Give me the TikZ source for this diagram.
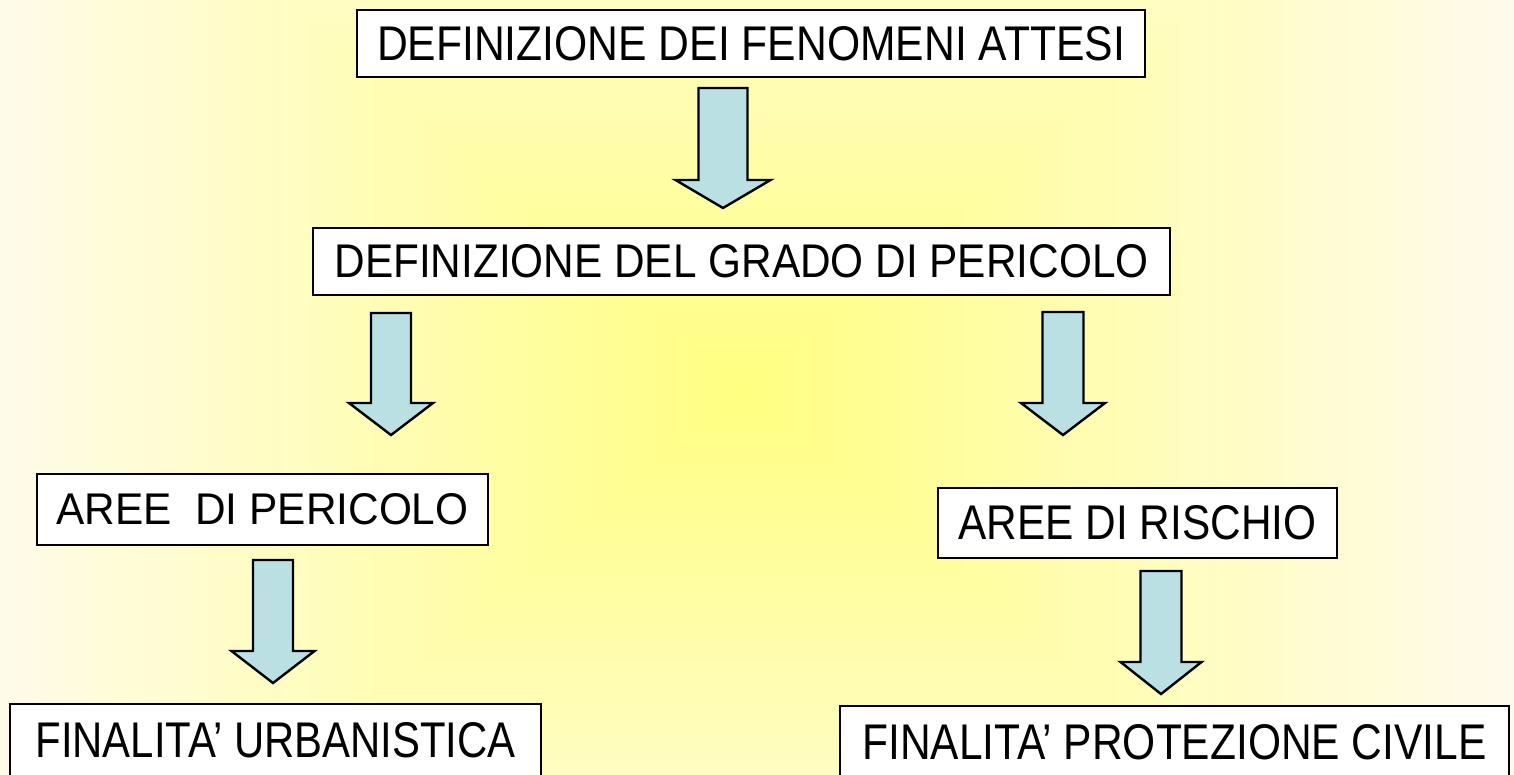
\documentclass[tikz,border=0pt]{standalone}
\usepackage{fontspec}
\usepackage{graphicx}
\setmainfont{Liberation Sans}
\definecolor{centreyellow}{RGB}{255,255,128}
\definecolor{edgecream}{RGB}{255,251,236}
\definecolor{arrowblue}{RGB}{187,224,227}

\tikzstyle{box} = [draw,line width=2.4pt,fill=white,inner sep=0pt,font=\fontsize{46}{50}\selectfont]
\tikzstyle{blockarrow} = [draw,line width=2.4pt,fill=arrowblue,line join=miter]
\newcommand{\boxtext}[3]{\resizebox{#1pt}{#2pt}{#3}}

\begin{document}
\begin{tikzpicture}[x=1pt,y=-1pt]
      \useasboundingbox (0,0) rectangle (1514,774);
      %% background
      \fill[edgecream] (0,0) rectangle (1514,774);
      \foreach \i in {0,...,60}
      {
        \pgfmathsetmacro\f{1-\i/60}
        \pgfmathsetmacro\p{100*\i/60}
        \fill[centreyellow!\p!edgecream] ({745-770*\f},{390-650*\f}) rectangle ({745+770*\f},{390+650*\f});
      }
      %% boxes
      \foreach \nodename/\x/\y/\w/\h/\tw/\th/\label in {
        fenomeni/751/43.5/788/67/748/34/DEFINIZIONE DEI FENOMENI ATTESI,
        grado/741.5/261.5/857/67/814/33/DEFINIZIONE DEL GRADO DI PERICOLO,
        pericolo/262.5/509.5/451/71/412/31/AREE\ \ DI PERICOLO,
        rischio/1137.5/523/399/70/358/34/AREE DI RISCHIO,
        urbanistica/275.5/740/531/72/480/35/FINALITA' URBANISTICA,
        protezione/1174.5/742/669/72/624/35/FINALITA' PROTEZIONE CIVILE}
      {
        \node[box,minimum width=\w pt,minimum height=\h pt] (\nodename) at (\x,\y) {\boxtext{\tw}{\th}{\label}};
      }
      %% arrows
      \foreach \cx/\top/\base/\tip/\shaft/\head in {
        723/88/180/208/24.5/47.5,
        391/313/403/435/20/42,
        1063/312/403/435/20.5/42,
        273/560/651/683/20/41.5,
        1161/571/662/694/20.5/40.5}
      {
        \draw[blockarrow] ({\cx-\shaft},\top) -- ({\cx+\shaft},\top) -- ({\cx+\shaft},\base) -- ({\cx+\head},\base)
          -- (\cx,\tip) -- ({\cx-\head},\base) -- ({\cx-\shaft},\base) -- cycle;
      }
\end{tikzpicture}
\end{document}
